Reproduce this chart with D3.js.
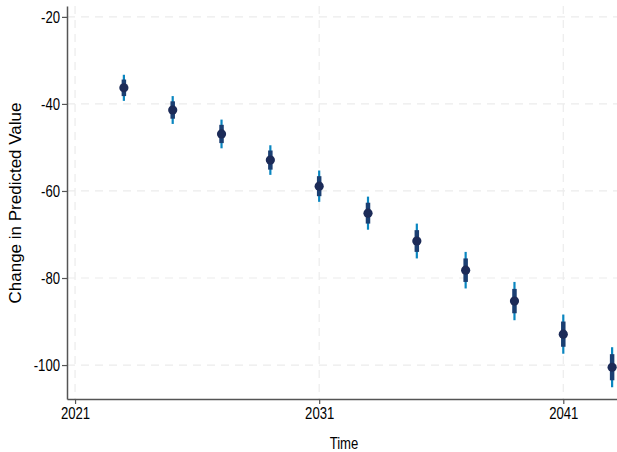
<!DOCTYPE html>
<html>
<head>
<meta charset="utf-8">
<script src="https://cdn.jsdelivr.net/npm/d3@7"></script>
<style>
  html, body { margin: 0; padding: 0; background: #ffffff; }
  svg { display: block; }
  text { fill: #000; font-family: "Liberation Sans", Arial, Helvetica, sans-serif; }
</style>
</head>
<body>
<svg id="chart" width="617" height="452"></svg>
<script>
// Predicted change over time with two confidence bands
const years = [2023, 2025, 2027, 2029, 2031, 2033, 2035, 2037, 2039, 2041, 2043];
const estimate = [-36.3, -41.4, -46.9, -52.9, -58.9, -65.1, -71.5, -78.2, -85.3, -92.9, -100.5];
const outerHalf = [3.0, 3.2, 3.3, 3.4, 3.6, 3.8, 4.0, 4.2, 4.4, 4.5, 4.6];
const innerHalf = [1.9, 2.0, 2.1, 2.2, 2.3, 2.4, 2.5, 2.7, 2.8, 2.9, 3.0];
const xTicks = [2021, 2031, 2041];
const yTicks = [-20, -40, -60, -80, -100];

const rows = years.map((yr, i) => ({
  yr, est: estimate[i],
  lo: estimate[i] - outerHalf[i], hi: estimate[i] + outerHalf[i],
  lo2: estimate[i] - innerHalf[i], hi2: estimate[i] + innerHalf[i]
}));

// condensed look for tick labels and the x title
const squeeze = 0.82;

const svg = d3.select("#chart");
const plotL = 67, plotR = 617, plotT = 6, plotB = 399;

const x = d3.scaleLinear().domain([2020.67, 2043.2]).range([plotL, plotR]);
const y = d3.scaleLinear().domain([-107.8, -17.5]).range([plotB, plotT]);

// dashed grid
const grid = svg.append("g");
grid.selectAll("line.h").data(yTicks).join("line")
  .attr("x1", plotL).attr("x2", plotR)
  .attr("y1", d => y(d)).attr("y2", d => y(d))
  .attr("stroke", "#ececec").attr("stroke-width", 1.2)
  .attr("stroke-dasharray", "8,6");
grid.selectAll("line.v").data(xTicks).join("line")
  .attr("y1", plotT).attr("y2", plotB)
  .attr("x1", d => x(d)).attr("x2", d => x(d))
  .attr("stroke", "#ececec").attr("stroke-width", 1.2)
  .attr("stroke-dasharray", "8,6");

// axes (plain hyphen for negatives)
const fmt = d => String(d);
const yAxis = svg.append("g").attr("transform", `translate(${plotL},0)`)
  .call(d3.axisLeft(y).tickValues(yTicks).tickSize(5).tickSizeOuter(0).tickPadding(2).tickFormat(fmt));
const xAxis = svg.append("g").attr("transform", `translate(0,${plotB})`)
  .call(d3.axisBottom(x).tickValues(xTicks).tickSize(5).tickSizeOuter(0).tickPadding(4).tickFormat(fmt));
[yAxis, xAxis].forEach(g => {
  g.select(".domain").attr("stroke", "#555").attr("stroke-width", 1.5);
  g.selectAll(".tick line").attr("stroke", "#555").attr("stroke-width", 1.2);
  g.selectAll(".tick text").attr("font-size", 16)
    .attr("font-family", "'Liberation Sans', Arial, sans-serif").attr("fill", "#000");
});
yAxis.selectAll(".tick text")
  .attr("x", -7 / squeeze)
  .attr("transform", `scale(${squeeze},1)`);
xAxis.selectAll(".tick text")
  .attr("transform", `scale(${squeeze},1)`);

// axis titles
svg.append("text")
  .attr("transform", `translate(344,449) scale(${squeeze},1)`)
  .attr("text-anchor", "middle").attr("font-size", 16).text("Time");
svg.append("text")
  .attr("transform", `translate(21,203) rotate(-90)`)
  .attr("text-anchor", "middle").attr("font-size", 17).text("Change in Predicted Value");

// confidence bars and point estimates
const marks = svg.append("g");
marks.selectAll("line.outer").data(rows).join("line")
  .attr("x1", d => x(d.yr)).attr("x2", d => x(d.yr))
  .attr("y1", d => y(d.lo)).attr("y2", d => y(d.hi))
  .attr("stroke", "#0a86c0").attr("stroke-width", 2.2);
marks.selectAll("line.inner").data(rows).join("line")
  .attr("x1", d => x(d.yr)).attr("x2", d => x(d.yr))
  .attr("y1", d => y(d.lo2)).attr("y2", d => y(d.hi2))
  .attr("stroke", "#1b3f72").attr("stroke-width", 4.5);
marks.selectAll("circle").data(rows).join("circle")
  .attr("cx", d => x(d.yr)).attr("cy", d => y(d.est)).attr("r", 4.6)
  .attr("fill", "#1c2b58");
</script>
</body>
</html>
